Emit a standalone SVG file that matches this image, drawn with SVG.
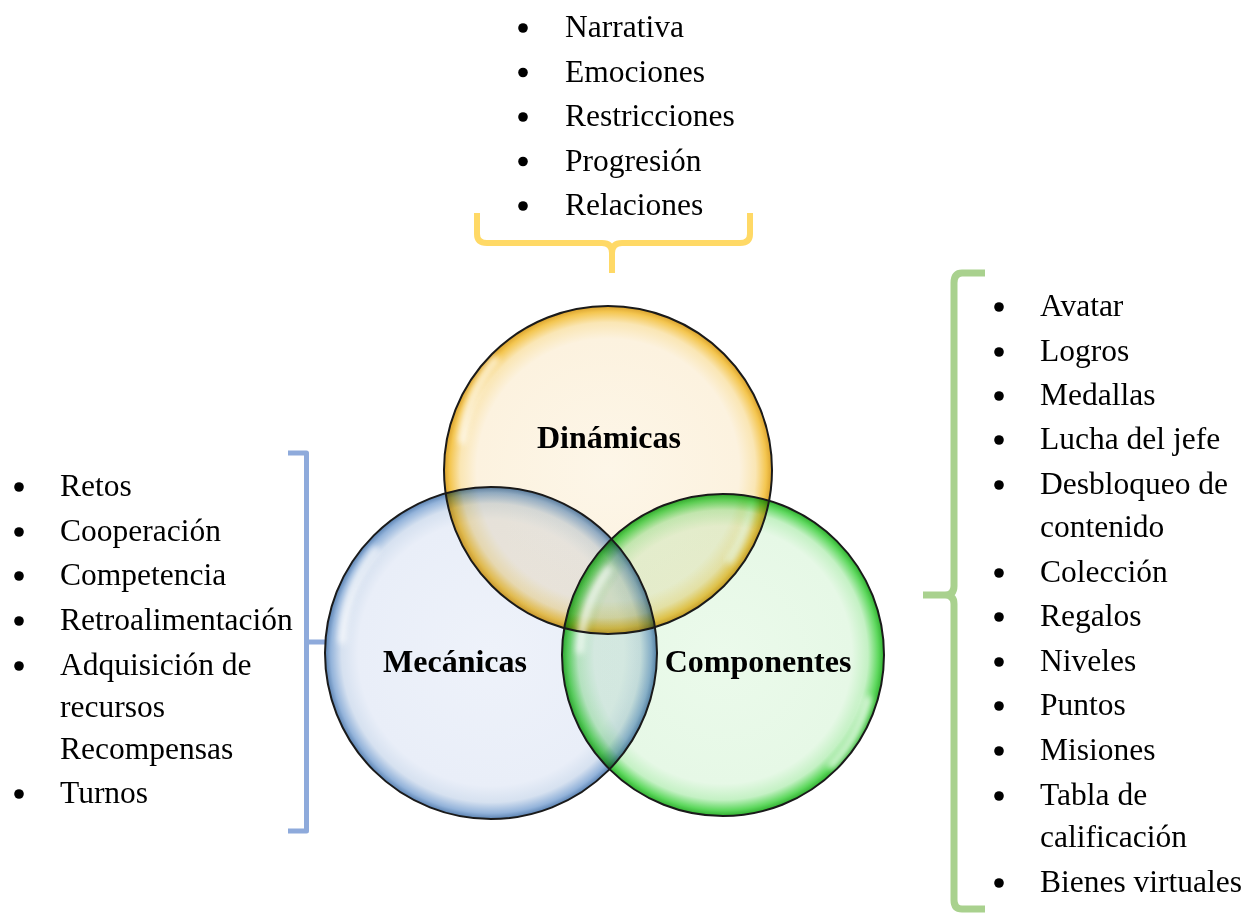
<svg xmlns="http://www.w3.org/2000/svg" width="1246" height="914" viewBox="0 0 1246 914">
<style>
.t{font-family:"Liberation Serif","Times New Roman",serif;font-size:31.5px;fill:#000}
.lbl{font-family:"Liberation Serif","Times New Roman",serif;font-size:32px;font-weight:bold;fill:#000;text-anchor:middle}
.b{fill:#000}
.ol{fill:none;stroke:#1a1a1a;stroke-width:2}
.hl{fill:none;stroke:#fff;stroke-width:8;stroke-linecap:round;opacity:0.7;filter:url(#blur)}
.mul{mix-blend-mode:multiply}
.br{fill:none;stroke-linecap:butt;stroke-linejoin:round}
</style>
<defs>
<filter id="blur" x="-30%" y="-30%" width="160%" height="160%"><feGaussianBlur stdDeviation="3"/></filter>
<radialGradient id="gy" cx="50%" cy="50%" r="50%">
<stop offset="0" stop-color="#FDF6E8"/><stop offset="0.8" stop-color="#FCF2DF"/><stop offset="0.9" stop-color="#FAE6B4"/><stop offset="0.965" stop-color="#F4C650"/><stop offset="1" stop-color="#D9A12C"/>
</radialGradient>
<radialGradient id="gb" cx="50%" cy="50%" r="50%">
<stop offset="0" stop-color="#EEF2FA"/><stop offset="0.8" stop-color="#E9EEF8"/><stop offset="0.9" stop-color="#D6E1F0"/><stop offset="0.965" stop-color="#93B3DA"/><stop offset="1" stop-color="#5A82B2"/>
</radialGradient>
<radialGradient id="gg" cx="50%" cy="50%" r="50%">
<stop offset="0" stop-color="#EBFAEB"/><stop offset="0.8" stop-color="#E6F8E6"/><stop offset="0.9" stop-color="#C4F1C4"/><stop offset="0.965" stop-color="#5ED85E"/><stop offset="1" stop-color="#30B030"/>
</radialGradient>
</defs>
<rect width="1246" height="914" fill="#fff"/>

<g id="connectors">
<path class="br" stroke="#FFD966" stroke-width="6" d="M477,213 L477,234 Q477,243 487,243 L602,243 Q612,243 612,253 L612,273 M612,253 Q612,243 622,243 L740,243 Q750,243 750,234 L750,213"/>
<path class="br" stroke="#8EAADB" stroke-width="5" d="M288,453 L306.5,453 L306.5,831 L288,831 M306.5,642 L326,642"/>
<path class="br" stroke="#A9D18E" stroke-width="7" d="M985,273 L962,273 Q954,273 954,283 L954,586 Q954,595 945,595 L923,595 M945,595 Q954,595 954,604 L954,900 Q954,909 962,909 L985,909"/>
</g>

<g id="dinamicas">
<circle cx="608" cy="470" r="164" fill="url(#gy)"/>
<path class="hl" d="M462,440 A148,148 0 0 1 495,360"/>
<path class="hl" d="M752,500 A148,148 0 0 1 730,560" opacity="0.45"/>
</g>
<g id="mecanicas">
<circle class="mul" cx="491" cy="653" r="166" fill="url(#gb)"/>
<path class="hl" d="M342,640 A150,150 0 0 1 375,550"/>
</g>
<g id="componentes">
<circle class="mul" cx="723" cy="655" r="161" fill="url(#gg)"/>
<path class="hl" d="M868,700 A146,146 0 0 1 832,765"/>
<path class="hl" d="M580,650 A146,146 0 0 1 608,570" opacity="0.55"/>
</g>
<g id="outlines">
<circle class="ol" cx="608" cy="470" r="164"/>
<circle class="ol" cx="491" cy="653" r="166"/>
<circle class="ol" cx="723" cy="655" r="161"/>
</g>
<g id="labels">
<text class="lbl" x="609" y="448">Dinámicas</text>
<text class="lbl" x="455" y="672">Mecánicas</text>
<text class="lbl" x="758" y="672">Componentes</text>
</g>

<g id="list-dinamicas">
<circle class="b" cx="523" cy="28" r="4.8"/><text class="t" x="565" y="37">Narrativa</text>
<circle class="b" cx="523" cy="72.5" r="4.8"/><text class="t" x="565" y="81.5">Emociones</text>
<circle class="b" cx="523" cy="117" r="4.8"/><text class="t" x="565" y="126">Restricciones</text>
<circle class="b" cx="523" cy="161.5" r="4.8"/><text class="t" x="565" y="170.5">Progresión</text>
<circle class="b" cx="523" cy="206" r="4.8"/><text class="t" x="565" y="215">Relaciones</text>
</g>

<g id="list-mecanicas">
<circle class="b" cx="19" cy="487" r="4.8"/><text class="t" x="60" y="496">Retos</text>
<circle class="b" cx="19" cy="532" r="4.8"/><text class="t" x="60" y="541">Cooperación</text>
<circle class="b" cx="19" cy="576" r="4.8"/><text class="t" x="60" y="585">Competencia</text>
<circle class="b" cx="19" cy="621" r="4.8"/><text class="t" x="60" y="630">Retroalimentación</text>
<circle class="b" cx="19" cy="666" r="4.8"/><text class="t" x="60" y="675">Adquisición de</text>
<text class="t" x="60" y="717">recursos</text>
<text class="t" x="60" y="759">Recompensas</text>
<circle class="b" cx="19" cy="794" r="4.8"/><text class="t" x="60" y="803">Turnos</text>
</g>

<g id="list-componentes">
<circle class="b" cx="999" cy="307" r="4.8"/><text class="t" x="1040" y="316">Avatar</text>
<circle class="b" cx="999" cy="352" r="4.8"/><text class="t" x="1040" y="361">Logros</text>
<circle class="b" cx="999" cy="396" r="4.8"/><text class="t" x="1040" y="405">Medallas</text>
<circle class="b" cx="999" cy="440" r="4.8"/><text class="t" x="1040" y="449">Lucha del jefe</text>
<circle class="b" cx="999" cy="485" r="4.8"/><text class="t" x="1040" y="494">Desbloqueo de</text>
<text class="t" x="1040" y="537">contenido</text>
<circle class="b" cx="999" cy="573" r="4.8"/><text class="t" x="1040" y="582">Colección</text>
<circle class="b" cx="999" cy="617" r="4.8"/><text class="t" x="1040" y="626">Regalos</text>
<circle class="b" cx="999" cy="662" r="4.8"/><text class="t" x="1040" y="671">Niveles</text>
<circle class="b" cx="999" cy="706" r="4.8"/><text class="t" x="1040" y="715">Puntos</text>
<circle class="b" cx="999" cy="751" r="4.8"/><text class="t" x="1040" y="760">Misiones</text>
<circle class="b" cx="999" cy="796" r="4.8"/><text class="t" x="1040" y="805">Tabla de</text>
<text class="t" x="1040" y="847">calificación</text>
<circle class="b" cx="999" cy="883" r="4.8"/><text class="t" x="1040" y="892">Bienes virtuales</text>
</g>
</svg>
